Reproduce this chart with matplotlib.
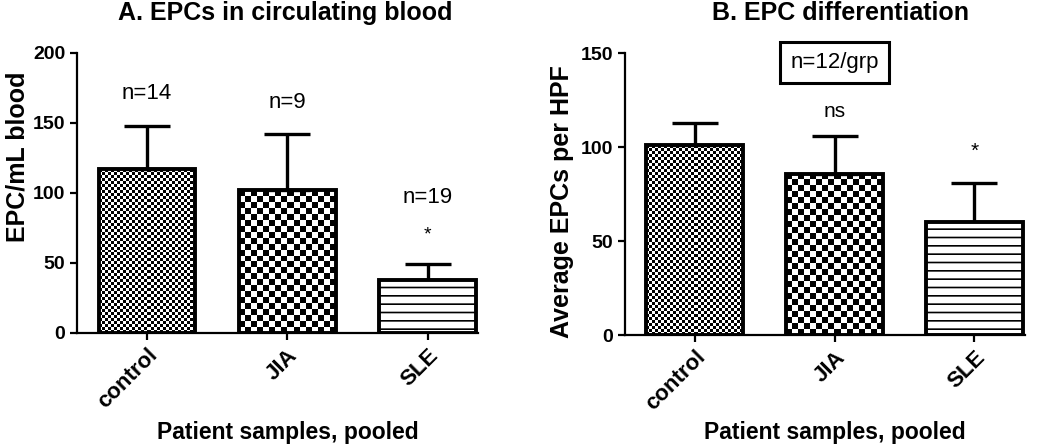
import matplotlib.pyplot as plt
import numpy as np

plt.rcParams['font.family'] = ['Liberation Sans', 'DejaVu Sans']
plt.rcParams['hatch.linewidth'] = 1.2

groups = ['control', 'JIA', 'SLE']

# panel A: EPCs in circulating blood
a_mean = [117, 102, 38]
a_err = [31, 40, 11]
a_n = ['n=14', 'n=9', 'n=19']
a_sig = ['', '', '*']

# panel B: EPC differentiation
b_mean = [101, 86, 60]
b_err = [12, 20, 21]
b_sig = ['', 'ns', '*']

# texture per group: checker cell size in px, or hatch
cells = [3, 6, None]
a_lift = [19, 19, 44]   # gap above error bar for the n= labels
b_lift = [0, 10, 14]

fig = plt.figure(figsize=(10.5, 4.48), dpi=100)
ax1 = fig.add_axes([0.0733, 0.2567, 0.382, 0.625])
ax2 = fig.add_axes([0.595, 0.252, 0.381, 0.629])


def checker(ax, bar, cell):
    x0, y0 = bar.get_x(), bar.get_y()
    w, h = bar.get_width(), bar.get_height()
    p0 = ax.transData.transform((x0, y0))
    p1 = ax.transData.transform((x0 + w, y0 + h))
    nx = max(1, int(round((p1[0] - p0[0]) / cell)))
    ny = max(1, int(round((p1[1] - p0[1]) / cell)))
    img = (np.add.outer(np.arange(ny), np.arange(nx)) % 2).astype(float)
    im = ax.imshow(img, extent=(x0, x0 + w, y0, y0 + h), cmap='gray',
                   interpolation='nearest', aspect='auto', zorder=1)
    im.set_clip_path(bar)


def panel(ax, means, errs, ylim, yticks, label_y):
    x = np.arange(len(groups))
    ax.set_xlim(-0.5, 2.36)
    ax.set_ylim(*ylim)
    bars = ax.bar(x, means, width=0.69, color='white', edgecolor='black',
                  linewidth=2.8, zorder=2)
    for b, c in zip(bars, cells):
        if c is None:
            b.set_hatch('--')
        else:
            b.set_facecolor('none')
            checker(ax, b, c)
    ax.errorbar(x, means, yerr=[np.zeros(len(errs)), errs], fmt='none',
                ecolor='black', elinewidth=2.4, capsize=16.5, capthick=2.4,
                zorder=1.5)
    ax.set_xlim(-0.5, 2.36)
    ax.set_ylim(*ylim)
    ax.set_yticks(yticks)
    ax.set_xticks(x)
    ax.set_xticklabels(groups, rotation=45, ha='right', rotation_mode='anchor',
                       fontsize=16, fontweight='bold')
    for lab in ax.get_yticklabels():
        lab.set_fontweight('bold')
        lab.set_fontsize(14)
    ax.spines['top'].set_visible(False)
    ax.spines['right'].set_visible(False)
    ax.spines['left'].set_linewidth(1.6)
    ax.spines['bottom'].set_linewidth(1.6)
    ax.tick_params(width=1.6, length=5, direction='out')
    ax.set_xlabel('Patient samples, pooled', fontsize=16.5, fontweight='bold')
    ax.xaxis.set_label_coords(0.525, label_y)


panel(ax1, a_mean, a_err, (0, 200), [0, 50, 100, 150, 200], -0.314)
ax1.set_ylabel('EPC/mL blood', fontsize=18, fontweight='bold')
ax1.yaxis.set_label_coords(-0.118, 0.63)
ax1.set_title('A. EPCs in circulating blood', fontsize=18, fontweight='bold',
              pad=24, x=0.52)
for i, (m, e, t, d) in enumerate(zip(a_mean, a_err, a_n, a_lift)):
    ax1.text(i, m + e + d, t, ha='center', va='baseline', fontsize=16)
for i, (m, e, s) in enumerate(zip(a_mean, a_err, a_sig)):
    if s:
        ax1.text(i, m + e + 18, s, ha='center', va='baseline', fontsize=14)

panel(ax2, b_mean, b_err, (0, 150), [0, 50, 100, 150], -0.305)
ax2.set_ylabel('Average EPCs per HPF', fontsize=18, fontweight='bold')
ax2.yaxis.set_label_coords(-0.128, 0.475)
ax2.set_title('B. EPC differentiation', fontsize=18, fontweight='bold',
              pad=24, x=0.54)
for i, (m, e, s, d) in enumerate(zip(b_mean, b_err, b_sig, b_lift)):
    if s:
        ax2.text(i, m + e + d, s, ha='center', va='baseline', fontsize=15)
ax2.text(1, 145, 'n=12/grp', ha='center', va='center', fontsize=16,
         bbox=dict(boxstyle='square,pad=0.45', facecolor='white',
                   edgecolor='black', linewidth=2.2))

fig.savefig('out.png', dpi=100)
